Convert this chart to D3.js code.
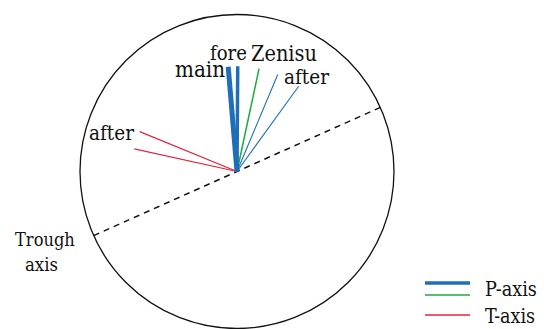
<!DOCTYPE html>
<html>
<head>
<meta charset="utf-8">
<script src="https://cdn.jsdelivr.net/npm/d3@7"></script>
<style>
  body { margin: 0; background: #fff; }
</style>
</head>
<body>
<svg id="chart" width="544" height="329"></svg>
<script>
// azimuths in degrees clockwise from north
const pEvents = ["main", "fore", "after", "after"];
const pAzimuth = [355.2, 0.4, 22.8, 35.9];
const zenisuAzimuth = [12.1];
const tEvents = ["after", "after"];
const tAzimuth = [292.3, 282.4];
const troughAzimuth = 65.9;
const axisLength = 0.67;   // fraction of the net radius
const legendLabels = ["P-axis", "T-axis"];

let serif = "'DejaVu Serif Condensed', 'DejaVu Serif', serif";
let svg = d3.select("#chart");
let cx = 237, cy = 171.5, R = 157;

// radius scale: 0..1 of the projection
let rScale = d3.scaleLinear().domain([0, 1]).range([0, R]);
let toXY = function(az, r) {
  let a = az * Math.PI / 180;
  return [cx + rScale(r) * Math.sin(a), cy - rScale(r) * Math.cos(a)];
};

let blue = "#1f6fb8", green = "#1faa3c", red = "#e0243f";
let widthFor = {main: 5, fore: 3.5, after: 1.1};

// text sized so it covers roughly the width seen in the original
let label = function(txt, x, y, wantWidth) {
  let t = svg.append("text").text(txt)
    .attr("x", x).attr("y", y)
    .style("font-family", serif)
    .style("font-size", "20px")
    .style("fill", "#111");
  let w = t.node().getComputedTextLength();
  let size = Math.max(12, Math.min(24, 20 * wantWidth / w));
  t.style("font-size", size.toFixed(1) + "px");
  return t;
};

svg.append("circle")
  .attr("cx", cx).attr("cy", cy).attr("r", R)
  .attr("fill", "none").attr("stroke", "#111").attr("stroke-width", 1.3);

// trough axis (diameter)
let t1 = toXY(troughAzimuth, 1), t2 = toXY(troughAzimuth + 180, 1);
svg.append("line")
  .attr("x1", t1[0]).attr("y1", t1[1]).attr("x2", t2[0]).attr("y2", t2[1])
  .attr("stroke", "#111").attr("stroke-width", 1.5).attr("stroke-dasharray", "6,5");

let g = svg.append("g");

// T-axes
g.selectAll("line.t").data(tAzimuth).enter().append("line")
  .attr("class", "t")
  .attr("x1", cx).attr("y1", cy)
  .attr("x2", d => toXY(d, axisLength)[0])
  .attr("y2", d => toXY(d, axisLength)[1])
  .attr("stroke", red).attr("stroke-width", 1.2);

// Zenisu P-axis
g.selectAll("line.z").data(zenisuAzimuth).enter().append("line")
  .attr("class", "z")
  .attr("x1", cx).attr("y1", cy)
  .attr("x2", d => toXY(d, axisLength)[0])
  .attr("y2", d => toXY(d, axisLength)[1])
  .attr("stroke", green).attr("stroke-width", 1.5);

// P-axes of the sequence
g.selectAll("line.p").data(pAzimuth).enter().append("line")
  .attr("class", "p")
  .attr("x1", cx).attr("y1", cy)
  .attr("x2", d => toXY(d, axisLength)[0])
  .attr("y2", d => toXY(d, axisLength)[1])
  .attr("stroke", blue)
  .attr("stroke-width", (d, i) => widthFor[pEvents[i]]);

// labels
label(pEvents[0], 175, 77, 50);
label(pEvents[1], 210, 60, 37);
label("Zenisu", 251, 61, 66);
label(pEvents[2], 284, 84, 45);
label(tEvents[0], 89, 140, 45);
label("Trough", 15, 246, 60);
label("axis", 25, 271, 33);

// legend
let lg = svg.append("g").attr("transform", "translate(425,0)");
lg.append("line").attr("x1", 0).attr("x2", 45).attr("y1", 283).attr("y2", 283)
  .attr("stroke", blue).attr("stroke-width", 3.5);
lg.append("line").attr("x1", 0).attr("x2", 45).attr("y1", 295).attr("y2", 295)
  .attr("stroke", green).attr("stroke-width", 1.5);
lg.append("line").attr("x1", 0).attr("x2", 45).attr("y1", 315).attr("y2", 315)
  .attr("stroke", red).attr("stroke-width", 1.5);
label(legendLabels[0], 485, 296, 52);
label(legendLabels[1], 485, 323, 50);
</script>
</body>
</html>
